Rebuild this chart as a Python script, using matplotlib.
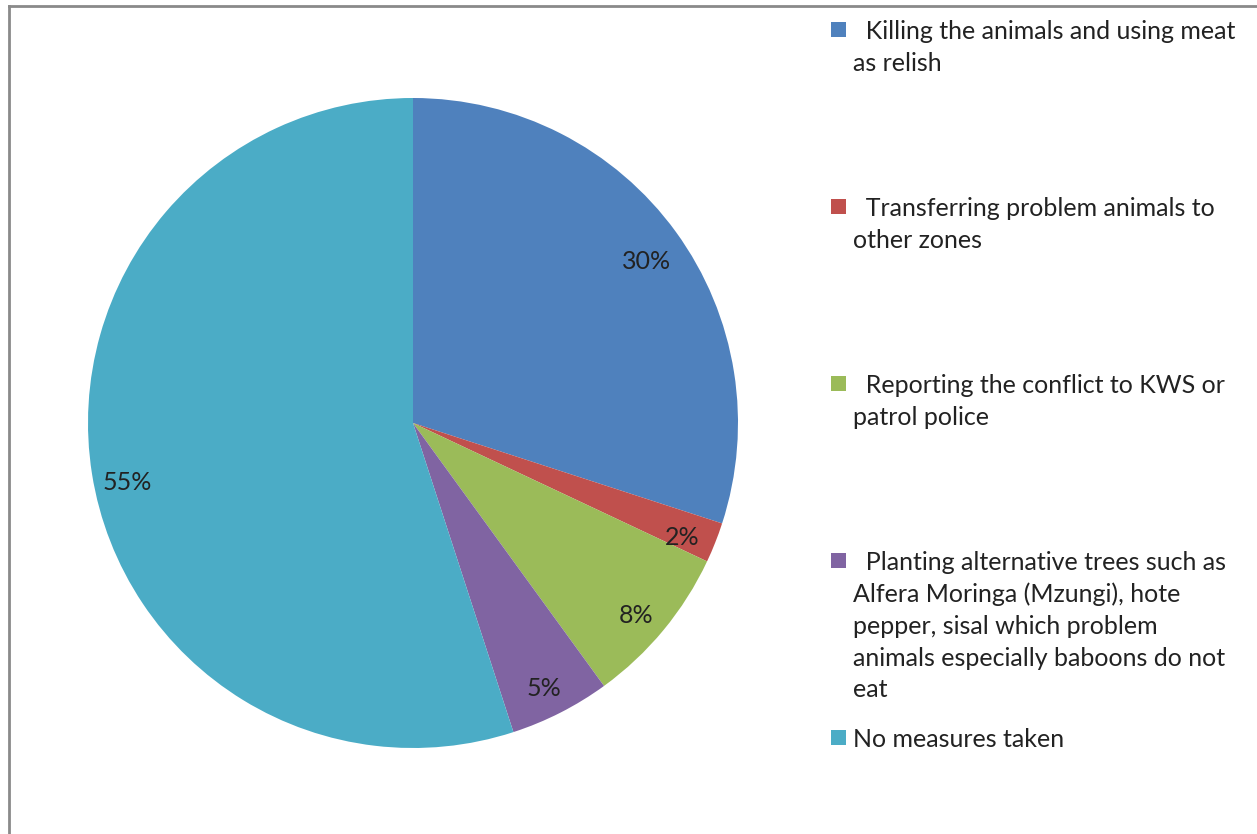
import matplotlib.pyplot as plt
from matplotlib.patches import Rectangle
from matplotlib.lines import Line2D

plt.rcParams['font.family'] = ['Lato', 'DejaVu Sans']

labels = [
    "  Killing the animals and using meat\nas relish",
    "  Transferring problem animals to\nother zones",
    "  Reporting the conflict to KWS or\npatrol police",
    "  Planting alternative trees such as\nAlfera Moringa (Mzungi), hote\npepper, sisal which problem\nanimals especially baboons do not\neat",
    "No measures taken",
]
values = [30, 2, 8, 5, 55]
colors = ['#4F81BD', '#C0504D', '#9BBB59', '#8064A2', '#4BACC6']

W, H = 1257, 834
fig = plt.figure(figsize=(W / 100, H / 100), dpi=100)

# pie centred at (413, 423) px, radius 325 px
cx, cy, r = 413, 423, 325
ax = fig.add_axes([(cx - r) / W, 1 - (cy + r) / H, 2 * r / W, 2 * r / H])
wedges, texts, autotexts = ax.pie(
    values, colors=colors, startangle=90, counterclock=False,
    autopct='%d%%', pctdistance=0.89,
    textprops={'fontsize': 18, 'color': '#222222'},
)
for t in autotexts:
    x, y = t.get_position()
    drop = 0.045 if y < -0.1 and x < 0 else 0.025
    t.set_position((x, y - drop))
ax.set_xlim(-1, 1)
ax.set_ylim(-1, 1)
ax.set_aspect('equal')

# legend down the right side, one slot per entry
for i, (lab, col) in enumerate(zip(labels, colors)):
    y_mid = 30 + i * 177
    fig.patches.append(Rectangle((831 / W, 1 - (y_mid + 7) / H), 15 / W, 15 / H,
                                 transform=fig.transFigure, facecolor=col,
                                 edgecolor='none'))
    fig.text(853 / W, 1 - (y_mid - 10) / H, lab, fontsize=18, color='#222222',
             va='top', ha='left', linespacing=1.45)

# chart frame (left and top edges visible)
fig.add_artist(Line2D([9 / W, 9 / W], [0, 1 - 6 / H], transform=fig.transFigure,
                      color='#8a8a8a', lw=2))
fig.add_artist(Line2D([9 / W, 1], [1 - 6 / H, 1 - 6 / H], transform=fig.transFigure,
                      color='#8a8a8a', lw=2))

fig.savefig('out.png', dpi=100)
